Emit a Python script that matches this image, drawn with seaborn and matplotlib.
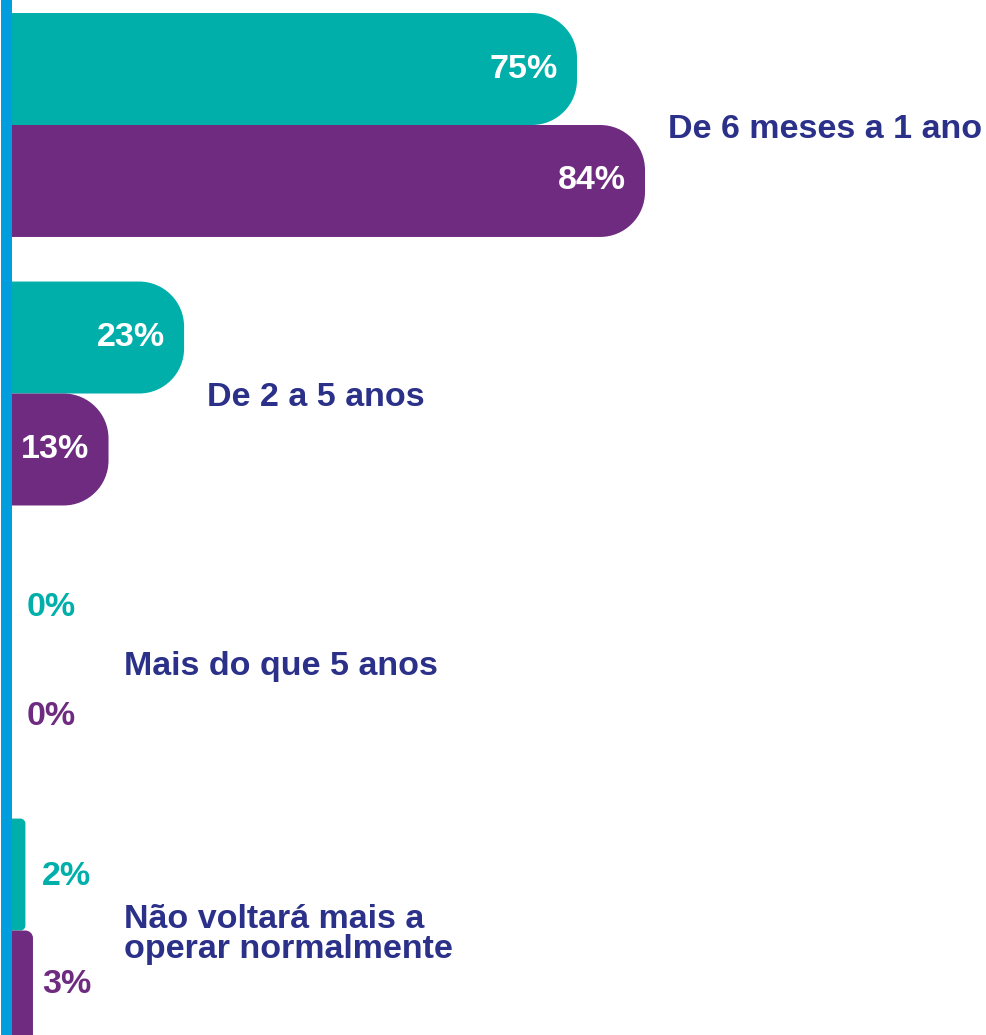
import pandas as pd
import matplotlib
matplotlib.use('Agg')
import matplotlib.pyplot as plt
from matplotlib.path import Path
from matplotlib.patches import PathPatch
import seaborn as sns

# Data
categorias = ['De 6 meses a 1 ano', 'De 2 a 5 anos', 'Mais do que 5 anos',
              'Não voltará mais a\noperar normalmente']
series = ['Série A', 'Série B']
serie_a = [75, 23, 0, 2]
serie_b = [84, 13, 0, 3]

cores = {'Série A': '#00AFA9', 'Série B': '#6E2B80'}
azul = '#009EDF'
navy = '#2B3089'

df = pd.DataFrame({
    'categoria': categorias * 2,
    'serie': [series[0]] * len(categorias) + [series[1]] * len(categorias),
    'valor': serie_a + serie_b,
})

sns.set_theme(style='white')
plt.rcParams['font.family'] = ['Liberation Sans', 'DejaVu Sans']

W, H = 986, 1035
fig = plt.figure(figsize=(W / 100, H / 100), dpi=100)
ax = fig.add_axes([5.5 / W, 0, 1 - 5.5 / W, 1])

sns.barplot(data=df, y='categoria', x='valor', hue='serie', order=categorias,
            hue_order=series, palette=cores, saturation=1, width=0.834,
            errorbar=None, legend=False, orient='h', ax=ax)

px_x = 7.556
ax.set_xlim(-4.8 / px_x, -4.8 / px_x + (W - 5.5) / px_x)
ax.set_ylim(3.389, -0.4655)
ax.set_xlabel('')
ax.set_ylabel('')
ax.set_xticks([])
ax.set_yticks([])
for s in ['top', 'right', 'bottom']:
    ax.spines[s].set_visible(False)
ax.spines['left'].set_color(azul)
ax.spines['left'].set_linewidth(11 * 72 / 100)
ax.spines['left'].set_zorder(5)

# pixels per data unit, to get rounded ends of constant size
p0, p1 = ax.transData.transform([(0, 0), (1, 1)])
sx, sy = abs(p1[0] - p0[0]), abs(p1[1] - p0[1])
k = 0.5523

for rect in list(ax.patches):
    x0, w = rect.get_x(), rect.get_width()
    ya, h = rect.get_y(), rect.get_height()
    color = rect.get_facecolor()
    rect.remove()
    if w <= 0:
        continue
    wpx = w * sx
    r = 45 if wpx > 60 else wpx / 3
    rx, ry = r / sx, r / sy
    x1, yb = x0 + w, ya + h
    verts = [(x0, ya), (x1 - rx, ya),
             (x1 - rx + k * rx, ya), (x1, ya + ry - k * ry), (x1, ya + ry),
             (x1, yb - ry),
             (x1, yb - ry + k * ry), (x1 - rx + k * rx, yb), (x1 - rx, yb),
             (x0, yb), (x0, ya)]
    codes = [Path.MOVETO, Path.LINETO,
             Path.CURVE4, Path.CURVE4, Path.CURVE4,
             Path.LINETO,
             Path.CURVE4, Path.CURVE4, Path.CURVE4,
             Path.LINETO, Path.CLOSEPOLY]
    ax.add_patch(PathPatch(Path(verts, codes), facecolor=color,
                           edgecolor='none', zorder=2))

bar_h = 0.834 / 2
for i, cat in enumerate(categorias):
    vals = [serie_a[i], serie_b[i]]
    gmax = max(vals)
    for j, (v, s) in enumerate(zip(vals, series)):
        yc = i - bar_h / 2 + j * bar_h
        if v >= 10:
            ax.annotate(f'{v}%', xy=(v, yc), xytext=(-14, 0),
                        textcoords='offset points', ha='right', va='center',
                        color='white', fontsize=24.5, fontweight='bold')
        else:
            ax.text(max(gmax, 1) + 1.2, yc * 0.97 + i * 0.03, f'{v}%',
                    ha='left', va='center',
                    color=cores[s], fontsize=24.5, fontweight='bold')
    ax.text(max(gmax + 3.0, 15), i + 0.015, cat, ha='left', va='center',
            color=navy, fontsize=24.5, fontweight='bold', linespacing=0.95)

fig.savefig('out.png', dpi=100)
